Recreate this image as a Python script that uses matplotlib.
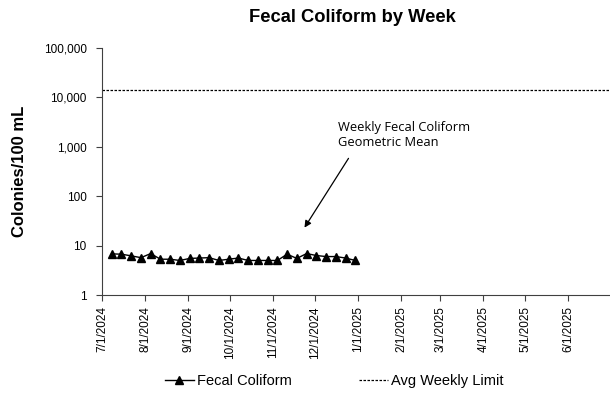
import datetime as dt
import matplotlib
matplotlib.use('Agg')
import matplotlib.pyplot as plt
import matplotlib.dates as mdates
from matplotlib.ticker import FuncFormatter, FixedLocator, NullLocator

# %% data
start = dt.date(2024, 7, 8)
weeks = [start + dt.timedelta(days=7 * i) for i in range(26)]
fecal = [6.8, 6.7, 6.2, 5.7, 6.9, 5.3, 5.3, 5.0, 5.5, 5.6, 5.7, 5.0, 5.3,
         5.6, 5.0, 5.0, 5.0, 5.0, 6.7, 5.5, 6.9, 6.3, 6.0, 6.0, 5.6, 5.0]
avg_limit = 14000
month_ticks = [dt.date(2024, m, 1) for m in range(7, 13)] + \
              [dt.date(2025, m, 1) for m in range(1, 7)]
y_ticks = [1, 10, 100, 1000, 10000, 100000]

# %% make plot
plt.rcParams['font.family'] = ['Liberation Sans', 'DejaVu Sans']
fig = plt.figure(figsize=(6.1, 4.17), dpi=100)
ax = fig.add_axes([102 / 610, 1 - 295 / 417, 508 / 610, 247 / 417])

ax.plot(weeks, fecal, color='black', lw=1.0, marker='^', ms=5.5,
        label='Fecal Coliform')
ax.axhline(avg_limit, color='black', lw=0.9, ls=(0, (2, 1.2)),
           label='Avg Weekly Limit')

ax.set_yscale('log')
ax.set_ylim(1, 100000)
ax.yaxis.set_major_locator(FixedLocator(y_ticks))
ax.yaxis.set_minor_locator(NullLocator())
ax.yaxis.set_major_formatter(FuncFormatter(lambda v, p: f'{int(v):,}'))

ax.set_xlim(dt.date(2024, 7, 1), dt.date(2025, 7, 1))
ax.xaxis.set_major_locator(FixedLocator(mdates.date2num(month_ticks)))
ax.xaxis.set_major_formatter(FuncFormatter(
    lambda v, p: (lambda d: f'{d.month}/{d.day}/{d.year}')(mdates.num2date(v))))
for lab in ax.get_xticklabels():
    lab.set_rotation(90)

ax.tick_params(axis='both', labelsize=8.5, length=4, width=0.8,
               color='#404040', direction='out')
ax.tick_params(axis='x', pad=4)
ax.tick_params(axis='y', pad=7)
ax.spines.right.set_visible(False)
ax.spines.top.set_visible(False)
ax.spines.left.set_color('#404040')
ax.spines.bottom.set_color('#404040')

ax.set_ylabel('Colonies/100 mL', fontsize=12, fontweight='bold', labelpad=12)
fig.text(352 / 610, 1 - 18 / 417, 'Fecal Coliform by Week', ha='center',
         va='center', fontsize=13.2, fontweight='bold')

# annotation
ax.annotate('', xy=(303 / 610, 1 - 230 / 417), xytext=(350 / 610, 1 - 156 / 417),
            xycoords='figure fraction', textcoords='figure fraction',
            arrowprops=dict(arrowstyle='-|>', color='black', lw=0.9,
                            mutation_scale=10))
fig.text(338 / 610, 1 - 149 / 417, 'Weekly Fecal Coliform\nGeometric Mean',
         ha='left', va='bottom', fontsize=9.3, family=['Open Sans', 'DejaVu Sans'],
         linespacing=1.2)

fig.legend(loc='center', bbox_to_anchor=(334 / 610, 1 - 381 / 417), ncol=2,
           frameon=False, fontsize=10.5, handlelength=2.0, handletextpad=0.2,
           columnspacing=4.6)

plt.savefig('out.png', dpi=100)
